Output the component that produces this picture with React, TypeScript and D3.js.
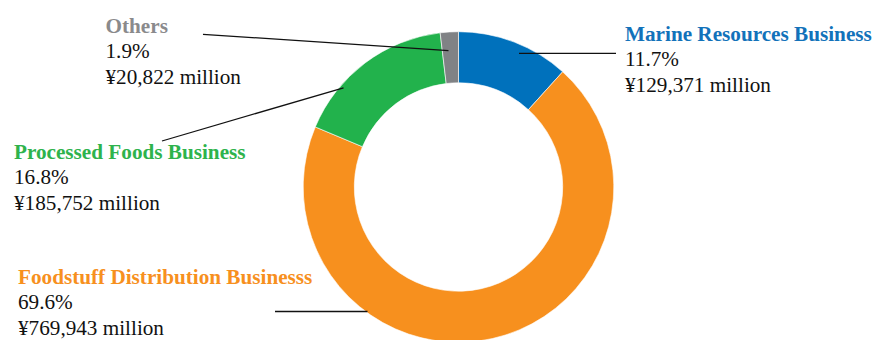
import React from "react";
import * as d3 from "d3";

const categories = ["Marine Resources Business", "Foodstuff Distribution Businesss", "Processed Foods Business", "Others"];
const values = [129371, 769943, 185752, 20822];
const percents = ["11.7%", "69.6%", "16.8%", "1.9%"];
const amounts = ["¥129,371 million", "¥769,943 million", "¥185,752 million", "¥20,822 million"];
const colors = ["#0071BC", "#F7901E", "#22B24C", "#808285"];
const labelColors = ["#1272BA", "#F7901E", "#2EB34C", "#8A8A8C"];

// label layout: text x, first baseline y, leader line coordinates
const labelLayout = [
  { x: 625, y: 40.7, line: [616, 53.3, 519, 53.3] },
  { x: 18, y: 283.5, line: [275, 311.5, 367.5, 311.5] },
  { x: 14, y: 158.5, line: [162, 141, 343.5, 87.8] },
  { x: 105.5, y: 32.7, line: [203, 34.3, 448.5, 50.6] },
];

export default function App() {
  const W = 877, H = 340;
  const cx = 458.5, cy = 187, rOuter = 155.3, rInner = 104.2;
  const pie = d3.pie<number>().sort(null).value((d) => d);
  const arcs = pie(values);
  const arc = d3.arc<d3.PieArcDatum<number>>().innerRadius(rInner).outerRadius(rOuter);
  const lh = 25.6;
  const ts = { fontFamily: '"Liberation Serif"', fontSize: "21.2px" };
  return (
    <svg width={W} height={H} style={{ position: "absolute", left: 0, top: 0 }}>
      <rect width={W} height={H} fill="#fff" />
      <g transform={`translate(${cx},${cy})`}>
        {arcs.map((a, i) => (
          <path key={i} d={arc(a) || ""} fill={colors[i]} stroke="#fff" strokeWidth={0.6} />
        ))}
      </g>
      {labelLayout.map((l, i) => (
        <g key={i}>
          <line x1={l.line[0]} y1={l.line[1]} x2={l.line[2]} y2={l.line[3]} stroke="#111" strokeWidth={1.3} />
          <text x={l.x} y={l.y} style={{ ...ts, fontWeight: "bold" }} fill={labelColors[i]}>{categories[i]}</text>
          <text x={l.x} y={l.y + lh} style={ts} fill="#111">{percents[i]}</text>
          <text x={l.x} y={l.y + lh * 2} style={ts} fill="#111">{amounts[i]}</text>
        </g>
      ))}
    </svg>
  );
}
